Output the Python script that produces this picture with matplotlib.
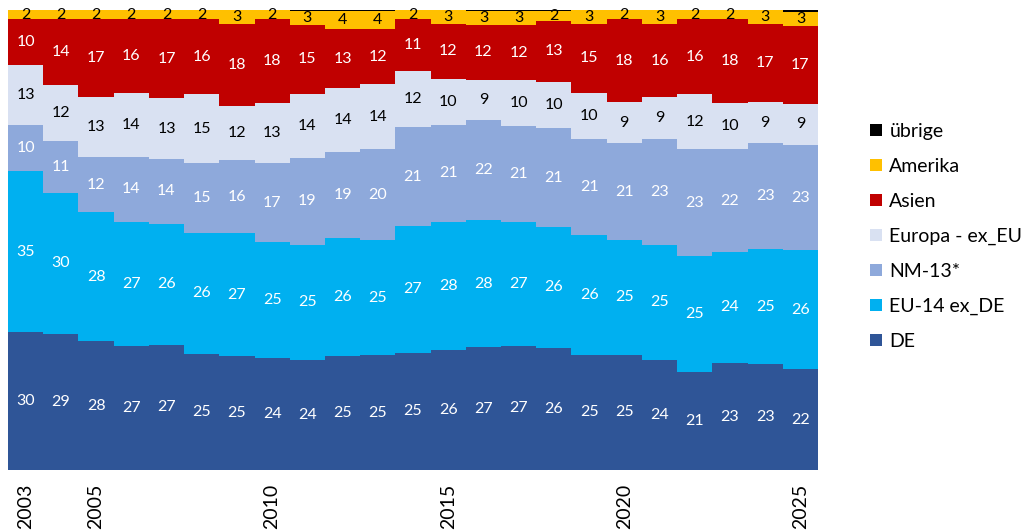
import numpy as np
import matplotlib
matplotlib.use("Agg")
import matplotlib.pyplot as plt

plt.rcParams["font.family"] = ["Lato", "DejaVu Sans"]

years = list(range(2003, 2026))
de = [30, 29, 28, 27, 27, 25, 25, 24, 24, 25, 25, 25, 26, 27, 27, 26, 25, 25, 24, 21, 23, 23, 22]
eu14 = [35, 30, 28, 27, 26, 26, 27, 25, 25, 26, 25, 27, 28, 28, 27, 26, 26, 25, 25, 25, 24, 25, 26]
nm13 = [10, 11, 12, 14, 14, 15, 16, 17, 19, 19, 20, 21, 21, 22, 21, 21, 21, 21, 23, 23, 22, 23, 23]
europa = [13, 12, 13, 14, 13, 15, 12, 13, 14, 14, 14, 12, 10, 9, 10, 10, 10, 9, 9, 12, 10, 9, 9]
asien = [10, 14, 17, 16, 17, 16, 18, 18, 15, 13, 12, 11, 12, 12, 12, 13, 15, 18, 16, 16, 18, 17, 17]
amerika = [2, 2, 2, 2, 2, 2, 3, 2, 3, 4, 4, 2, 3, 3, 3, 2, 3, 2, 3, 2, 2, 3, 3]
uebrige = [0, 0, 0, 0, 0, 0, 0, 0, 0.2, 0.2, 0.2, 0, 0, 0.3, 0.3, 0.3, 0, 0, 0, 0, 0, 0, 0.5]

names = ["DE", "EU-14 ex_DE", "NM-13*", "Europa - ex_EU", "Asien", "Amerika", "übrige"]
colors = ["#2F5597", "#00B0F0", "#8EA9DB", "#D9E1F2", "#C00000", "#FFC000", "#000000"]
text_colors = ["white", "white", "white", "black", "white", "black", None]
tick_years = [2003, 2005, 2010, 2015, 2020, 2025]

series = np.array([de, eu14, nm13, europa, asien, amerika, uebrige], dtype=float)
shares = series / series.sum(axis=0) * 100  # 100% stacked like the source
x = np.arange(len(years))

fig = plt.figure(figsize=(10.27, 5.31), dpi=100)
ax = fig.add_axes([0.0078, 0.115, 0.7887, 0.866])

bottom = np.zeros(len(years))
for i, name in enumerate(names):
    ax.bar(x, shares[i], width=1.0, bottom=bottom, color=colors[i], label=name, linewidth=0)
    if text_colors[i]:
        for j in range(len(years)):
            ax.text(x[j], bottom[j] + shares[i][j] / 2, f"{series[i][j]:.0f}",
                    ha="center", va="center", fontsize=11.5, color=text_colors[i])
    bottom += shares[i]

ax.set_xlim(-0.5, len(years) - 0.5)
ax.set_ylim(0, 100)
ax.set_yticks([])
ax.set_xticks([years.index(y) for y in tick_years])
ax.set_xticklabels([str(y) for y in tick_years], rotation=90, fontsize=14)
ax.tick_params(axis="x", length=0, pad=10)
for s in ax.spines.values():
    s.set_visible(False)

h, l = ax.get_legend_handles_labels()
fig.legend(h[::-1], l[::-1], loc="center left", bbox_to_anchor=(0.83, 0.555), frameon=False,
           fontsize=14, handlelength=0.6, handleheight=0.6, handletextpad=0.4, labelspacing=0.92)

fig.savefig("out.png", dpi=100)
